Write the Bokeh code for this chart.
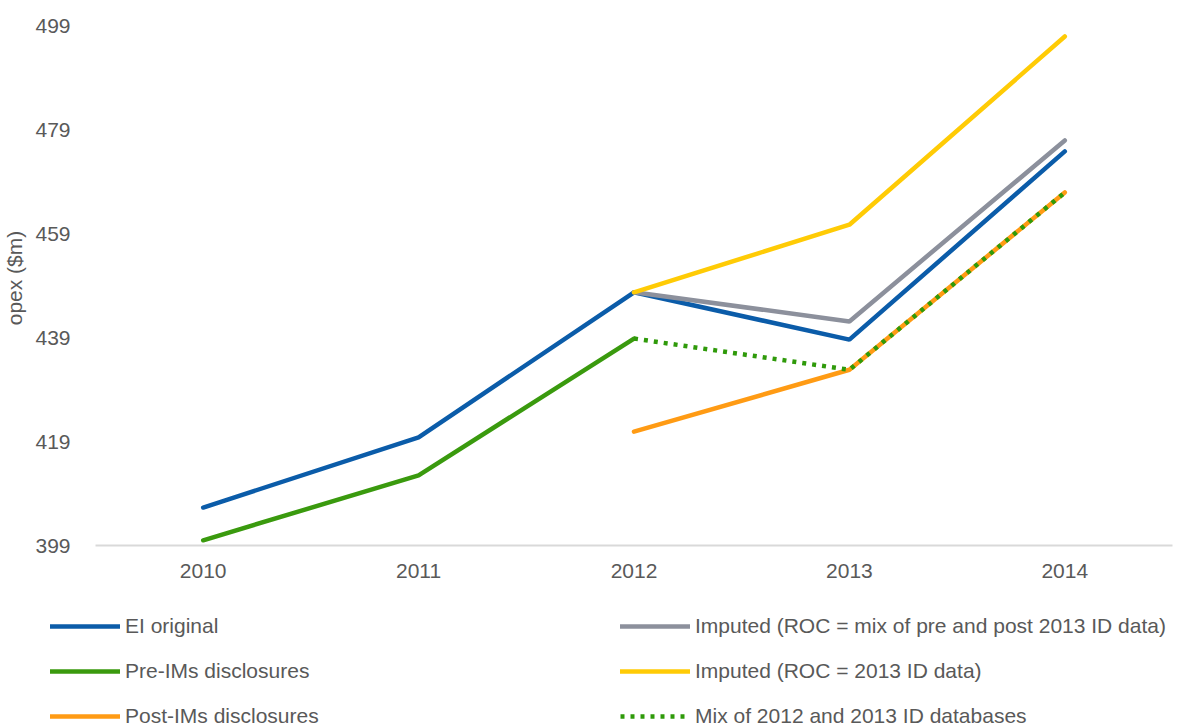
from bokeh.plotting import figure
from bokeh.models import Range1d, FixedTicker, Legend, LegendItem
from bokeh.layouts import column
from bokeh.embed import file_html
from bokeh.resources import INLINE

years = [2010, 2011, 2012, 2013, 2014]
ei_original = [406.3, 419.8, 447.7, 438.6, 474.8]
pre_ims_years = [2010, 2011, 2012]
pre_ims = [400.0, 412.5, 438.8]
post_ims_years = [2012, 2013, 2014]
post_ims = [420.9, 432.8, 466.9]
imputed_years = [2012, 2013, 2014]
imputed_mix = [447.7, 442.1, 476.9]
imputed_2013 = [447.7, 460.7, 496.9]
mix_years = [2012, 2013, 2014]
mix_2012_2013 = [438.8, 432.8, 466.9]
y_ticks = [399, 419, 439, 459, 479, 499]
series_labels = ["EI original", "Pre-IMs disclosures", "Post-IMs disclosures",
                 "Imputed (ROC = mix of pre and post 2013 ID data)",
                 "Imputed (ROC = 2013 ID data)", "Mix of 2012 and 2013 ID databases"]
series_x = [years, pre_ims_years, post_ims_years, imputed_years, imputed_years, mix_years]
series_y = [ei_original, pre_ims, post_ims, imputed_mix, imputed_2013, mix_2012_2013]

FONT = "Liberation Sans"
GRAY = "#595959"
LW = 4.5
styles = [
    dict(line_color="#0b5ca9", line_width=LW, line_cap="round"),
    dict(line_color="#3a9a0e", line_width=LW, line_cap="round"),
    dict(line_color="#ff9b14", line_width=LW, line_cap="round"),
    dict(line_color="#8c909c", line_width=LW, line_cap="round"),
    dict(line_color="#ffcb05", line_width=LW, line_cap="round"),
    dict(line_color="#2f9a0a", line_width=LW, line_dash="4 6"),
]

p = figure(width=1178, height=590, output_backend="svg", toolbar_location=None,
           x_range=Range1d(2009.5, 2014.5), y_range=Range1d(399, 501.9),
           min_border_left=92, min_border_right=6, min_border_top=10, min_border_bottom=45)
p.outline_line_color = None
p.xgrid.visible = False
p.ygrid.visible = False

for xs, ys, st in zip(series_x, series_y, styles):
    p.line(xs, ys, **st)

p.xaxis.ticker = FixedTicker(ticks=years)
p.xaxis.major_tick_line_color = None
p.xaxis.minor_tick_line_color = None
p.xaxis.axis_line_color = "#d9d9d9"
p.xaxis.axis_line_width = 2
p.xaxis.major_label_text_font = FONT
p.xaxis.major_label_text_font_size = "21px"
p.xaxis.major_label_text_color = GRAY
p.xaxis.major_label_standoff = 12

p.yaxis.ticker = FixedTicker(ticks=y_ticks)
p.yaxis.major_tick_line_color = None
p.yaxis.minor_tick_line_color = None
p.yaxis.axis_line_color = None
p.yaxis.major_label_text_font = FONT
p.yaxis.major_label_text_font_size = "21px"
p.yaxis.major_label_text_color = GRAY
p.yaxis.major_label_standoff = 19
p.yaxis.axis_label = "opex ($m)"
p.yaxis.axis_label_text_font = FONT
p.yaxis.axis_label_text_font_style = "normal"
p.yaxis.axis_label_text_font_size = "21px"
p.yaxis.axis_label_text_color = GRAY
p.yaxis.axis_label_standoff = 6

# Legend panel: the series are drawn here too, outside the visible range,
# so that the legend has real glyphs to show.
lg = figure(width=1178, height=137, output_backend="svg", toolbar_location=None,
            x_range=Range1d(0, 1), y_range=Range1d(0, 1),
            x_axis_location=None, y_axis_location=None,
            min_border_left=0, min_border_right=0, min_border_top=0, min_border_bottom=0)
lg.outline_line_color = None
lg.xgrid.visible = False
lg.ygrid.visible = False
items = []
for lab, xs, ys, st in zip(series_labels, series_x, series_y, styles):
    r = lg.line(xs, ys, **st)
    items.append(LegendItem(label=lab, renderers=[r]))

legend = Legend(items=items, nrows=3, orientation="vertical", location=(50, -1))
legend.border_line_color = None
legend.background_fill_alpha = 0
legend.label_text_font = FONT
legend.label_text_font_size = "21px"
legend.label_text_color = GRAY
legend.glyph_width = 70
legend.glyph_height = 24
legend.label_standoff = 5
legend.spacing = 21
legend.label_width = 474
legend.padding = 0
legend.margin = 0
lg.add_layout(legend, "center")

open("out.html", "w").write(file_html(column(p, column(lg)), INLINE))
